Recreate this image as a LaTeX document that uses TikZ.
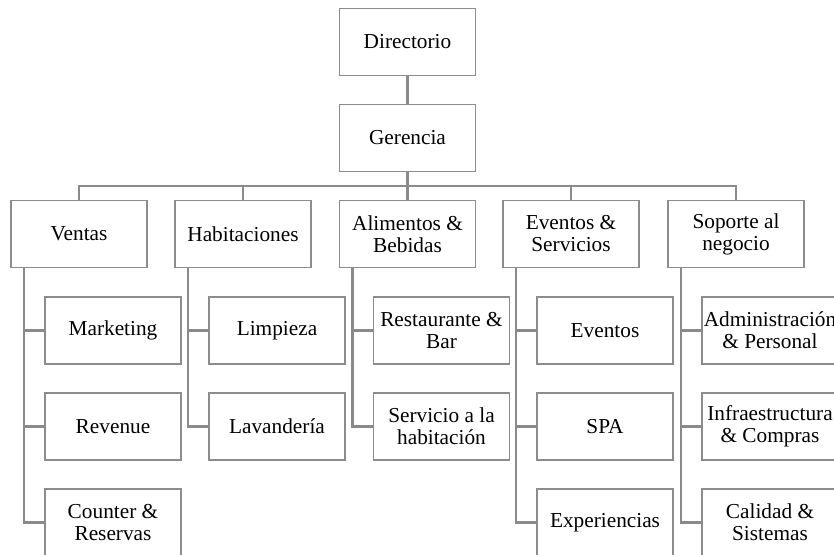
\documentclass[tikz,border=0pt]{standalone}
\usepackage{fontspec}
\setmainfont{Liberation Serif}
\usetikzlibrary{positioning}
\definecolor{boxline}{HTML}{8C8C8C}
\definecolor{linkline}{HTML}{8A8A8A}
\begin{document}
\begin{tikzpicture}[x=1pt,y=-1pt,
  unit/.style={draw=boxline,line width=1.2pt,fill=white,minimum width=136pt,
    minimum height=67pt,inner sep=0pt,align=center,
    font=\fontsize{21.3}{22}\selectfont},
  link/.style={draw=linkline,line width=2.3pt}]
\useasboundingbox (0,0) rectangle (834,554);

% top of the chart
\node[unit] (dir) at (407.5,42) {Directorio};
\node[unit] (ger) at (407.5,138) {Gerencia};

% areas
\node[unit] (ven) at (79,234)    {Ventas};
\node[unit] (hab) at (243,234)   {Habitaciones};
\node[unit] (ali) at (407.5,234) {Alimentos \&\\Bebidas};
\node[unit] (eve) at (571,234)   {Eventos \&\\Servicios};
\node[unit] (sop) at (736,234)   {Soporte al\\negocio};

% sections under each area
\node[unit] (mkt) at (113,330.5)   {Marketing};
\node[unit] (rev) at (113,426.5)   {Revenue};
\node[unit] (cou) at (113,522.5)   {Counter \&\\Reservas};
\node[unit] (lim) at (277,330.5)   {Limpieza};
\node[unit] (lav) at (277,426.5)   {Lavandería};
\node[unit] (res) at (441.5,330.5) {Restaurante \&\\Bar};
\node[unit] (ser) at (441.5,426.5) {Servicio a la\\habitación};
\node[unit] (evt) at (605,330.5)   {Eventos};
\node[unit] (spa) at (605,426.5)   {SPA};
\node[unit] (exp) at (605,522.5)   {Experiencias};
\node[unit] (adm) at (770,330.5)   {Administración\\\& Personal};
\node[unit] (inf) at (770,426.5)   {Infraestructura\\\& Compras};
\node[unit] (cal) at (770,522.5)   {Calidad \&\\Sistemas};

\coordinate (bus) at (407.5,186);

% connectors
\begin{scope}[on background layer/.try]
\draw[link] (dir) -- (ger);
\foreach \a in {ven,hab,ali,eve,sop}
  \draw[link] (ger.south) -- (bus) -| (\a.north);
\foreach \a/\k in {ven/mkt,ven/rev,ven/cou,hab/lim,hab/lav,ali/res,ali/ser,
                   eve/evt,eve/spa,eve/exp,sop/adm,sop/inf,sop/cal}
  \draw[link] ([xshift=13.5pt]\a.south west) |- (\k.west);
\end{scope}
\end{tikzpicture}
\end{document}
